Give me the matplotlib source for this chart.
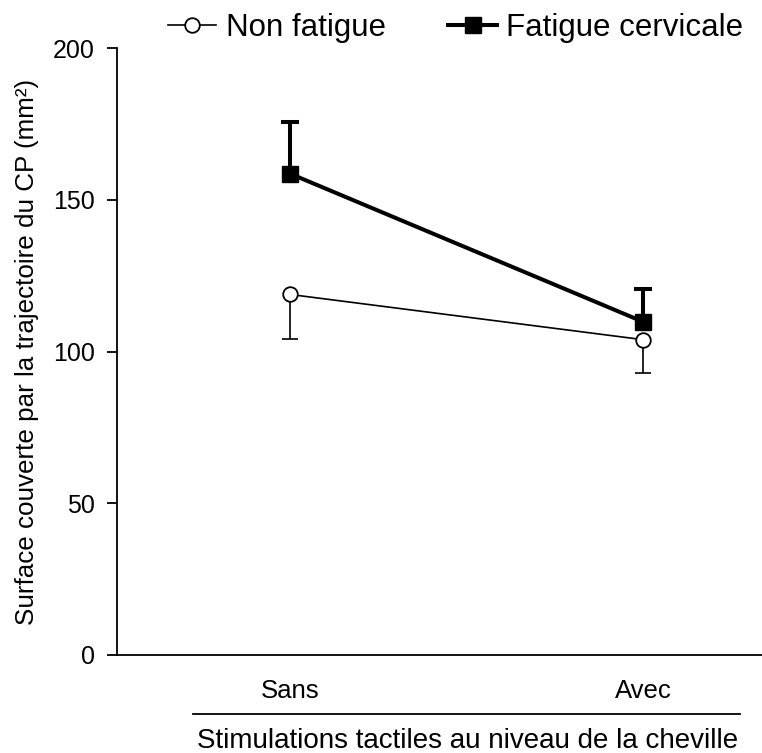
import matplotlib.pyplot as plt

plt.rcParams["font.family"] = ["Liberation Sans", "DejaVu Sans"]

conditions = ["Sans", "Avec"]
non_fatigue = [118.8, 103.9]
non_fatigue_err = [14.6, 11.0]   # drawn downward
fatigue = [158.6, 109.8]
fatigue_err = [17.1, 10.9]       # drawn upward

fig = plt.figure(figsize=(7.62, 7.53), dpi=100)
ax = fig.add_axes([117 / 762, 1 - 655 / 753, 645 / 762, 607 / 753])

x = list(range(len(conditions)))

# one-sided error bars
nf_tips = [v - e for v, e in zip(non_fatigue, non_fatigue_err)]
f_tips = [v + e for v, e in zip(fatigue, fatigue_err)]
ax.vlines(x, nf_tips, non_fatigue, color="black", lw=1.2, zorder=2)
ax.plot(x, nf_tips, ls="none", marker="_", markersize=11.5,
        markeredgewidth=1.2, color="black", zorder=2)
ax.vlines(x, fatigue, f_tips, color="black", lw=2.9, zorder=2)
ax.plot(x, f_tips, ls="none", marker="_", markersize=12.5,
        markeredgewidth=2.9, color="black", zorder=2)

# series lines
ax.plot(x, non_fatigue, color="black", lw=1.2, marker="o", markersize=10.5,
        markerfacecolor="white", markeredgewidth=1.3, label="Non fatigue",
        zorder=3)
ax.plot(x, fatigue, color="black", lw=2.9, marker="s", markersize=11,
        markerfacecolor="black", label="Fatigue cervicale", zorder=4)

ax.set_xlim(-0.49, 1.337)
ax.set_ylim(0, 200)
ax.set_yticks([0, 50, 100, 150, 200])
ax.set_xticks(x)
ax.set_xticklabels(conditions)
ax.tick_params(axis="y", length=7, width=1.3, labelsize=18, pad=9)
ax.tick_params(axis="x", length=0, labelsize=18.5, pad=17)

for side in ["top", "right"]:
    ax.spines[side].set_visible(False)
ax.spines["left"].set_linewidth(1.3)
ax.spines["bottom"].set_linewidth(1.3)

ax.set_ylabel("Surface couverte par la trajectoire du CP (mm²)", fontsize=18.7,
              labelpad=10)

# line above the category title
ax.plot([0.118, 0.966], [-0.097, -0.097], color="black", lw=1.3,
        transform=ax.transAxes, clip_on=False)
ax.text(0.544, -0.141, "Stimulations tactiles au niveau de la cheville",
        transform=ax.transAxes, ha="center", va="center", fontsize=20)

fig.legend(loc="upper right", bbox_to_anchor=(1.0, 1.008), ncol=2,
           frameon=False, fontsize=22.5, handlelength=1.55, handletextpad=0.3,
           columnspacing=2.0, borderaxespad=0.2)

fig.savefig("out.png", dpi=100)
